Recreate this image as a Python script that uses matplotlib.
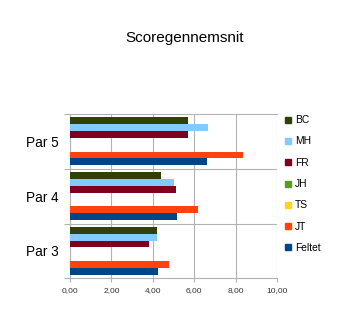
import numpy as np
import matplotlib
matplotlib.use('Agg')
import matplotlib.pyplot as plt
from matplotlib.lines import Line2D
from matplotlib.ticker import FuncFormatter, FixedLocator

plt.rcParams['font.family'] = ['Liberation Sans', 'DejaVu Sans']

#------------------------------------------------------------------------
# D A T A
#------------------------------------------------------------------------
categories = ['Par 3', 'Par 4', 'Par 5']
# series, drawn bottom-to-top inside each group
series = ['Feltet', 'JT', 'TS', 'JH', 'FR', 'MH', 'BC']
Feltet = [4.25, 5.17, 6.59]
JT     = [4.78, 6.18, 8.34]
TS     = [0.0, 0.0, 0.0]
JH     = [0.0, 0.0, 0.0]
FR     = [3.82, 5.12, 5.67]
MH     = [4.20, 5.02, 6.68]
BC     = [4.20, 4.40, 5.67]
values = [Feltet, JT, TS, JH, FR, MH, BC]
colors = ['#004586', '#ff420e', '#ffd320', '#579d1c', '#7e0021', '#83caff', '#314004']

#------------------------------------------------------------------------
# P L O T
#------------------------------------------------------------------------
fig = plt.figure(figsize=(3.51, 3.10), dpi=100)
ax = fig.add_axes([0.1994, 0.1023, 0.5906, 0.5300])

h = 0.125
ypos = np.arange(len(categories))
for k, (name, vals, col) in enumerate(zip(series, values, colors)):
    off = (k - 3) * h
    ax.barh(ypos + off, vals, height=h, color=col, edgecolor='none', zorder=3)

ax.set_xlim(0, 10)
ax.set_ylim(-0.5, 2.5)
ax.xaxis.set_major_locator(FixedLocator([0, 2, 4, 6, 8, 10]))
ax.xaxis.set_major_formatter(FuncFormatter(lambda v, p: ('%.2f' % v).replace('.', ',')))
ax.grid(axis='x', color='#b3b3b3', linewidth=0.8, zorder=0)
for yb in [0.5, 1.5]:
    ax.axhline(yb, color='#b3b3b3', linewidth=0.8, zorder=0)

ax.set_yticks(ypos)
ax.set_yticklabels(categories, fontsize=9.8)
ax.set_yticks([-0.5, 0.5, 1.5, 2.5], minor=True)
ax.tick_params(axis='y', which='major', length=0, pad=8)
ax.tick_params(axis='y', which='minor', length=4, color='#b3b3b3', width=0.8)
ax.tick_params(axis='x', length=3, color='#b3b3b3', width=0.8, labelsize=6, labelcolor='#333333')

for s in ['left', 'bottom', 'top']:
    ax.spines[s].set_color('#b3b3b3')
    ax.spines[s].set_linewidth(0.8)
ax.spines['right'].set_visible(False)

fig.text(0.527, 0.878, 'Scoregennemsnit', ha='center', va='center', fontsize=11)

handles = [Line2D([], [], marker='s', linestyle='none', markersize=4, color=c) for c in colors[::-1]]
fig.legend(handles, series[::-1], loc='upper left', bbox_to_anchor=(0.797, 0.645),
           frameon=False, fontsize=7.4, handlelength=0.6, handletextpad=0.4,
           labelspacing=1.1, borderpad=0)

plt.savefig('out.png', dpi=100)
